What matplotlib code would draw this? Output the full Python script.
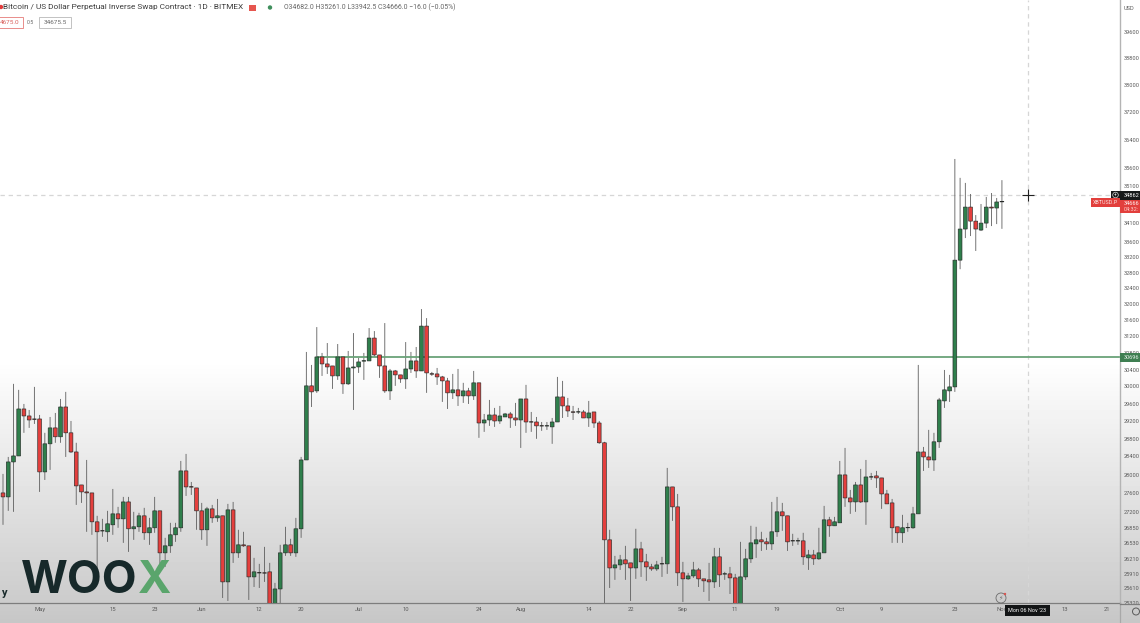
import numpy as np
import matplotlib
matplotlib.use("Agg")
import matplotlib.pyplot as plt
from matplotlib.patches import Rectangle, Circle

# --- data: daily candles ------------------------------------------------------
opens = [27600,27514,28278,28411,29476,29315,29246,29246,28058,28682,29042,28840,29522,28930,28500,27773,27622,27600,26982,26793,
26772,26919,27151,27045,27406,26835,26877,27109,26751,26856,27215,26334,26479,26709,26856,28080,27735,27708,27215,26814,
27257,27066,27109,25742,27236,26334,26500,26479,25843,25928,25925,25945,25300,25600,26334,26500,26334,26835,28322,30014,
29896,30702,30534,30486,30249,30702,30061,30438,30462,30600,30606,31160,30750,30486,29896,30367,30273,30178,30414,30606,
30367,31453,30300,30296,30225,30131,29850,29920,29779,29896,29779,30085,29154,29223,29338,29200,29292,29361,29269,29223,
29708,29180,29177,29090,29085,29065,29177,29755,29546,29410,29405,29407,29269,29407,29154,28705,26604,26025,26087,26190,
26128,26025,26416,26149,26046,26005,26110,26108,27730,27300,25925,25803,25863,25985,25803,25783,25742,26252,25900,25904,
25823,25300,25843,26211,26520,26604,26562,26520,26772,27194,27109,26585,26580,26583,26231,26292,26211,26334,27024,26898,
26961,27992,27492,27406,27773,27406,27945,27970,27926,27578,27385,26877,26751,26856,26856,27151,28500,28389,28322,28727,
29662,29896,29990,33120,33937,34526,34148,33910,34095,34526,34500,34682]
highs = [28014,28389,30061,29920,29592,29453,29990,29338,28930,29292,29384,29708,29873,29200,28705,27773,28322,27600,27109,27045,
27215,27686,27300,27514,27514,27194,27173,27279,27066,27514,27215,26646,26961,26961,28300,28456,27838,27708,27385,27300,
27342,27470,27109,27364,27406,26814,26772,26479,26231,26108,26458,26128,25722,26500,26877,26625,27066,28389,30822,30510,
31428,30798,31038,30486,31014,30702,30846,31281,30678,30798,31404,31330,30750,31527,30414,30390,30273,31062,30822,30942,
31875,31650,30343,30438,30249,30202,30296,30414,30085,29967,30367,30085,29361,29685,29500,29546,29384,29407,29616,29708,
30037,29407,29292,29177,29177,29269,30225,30131,29732,29546,29500,29453,29662,29407,29200,28727,26814,26272,26292,26479,
26128,26835,26562,26313,26108,26169,26252,28146,27730,27578,26149,25925,26149,26025,25803,26128,26437,26437,25945,26046,
25904,26562,26416,26898,26877,26772,26646,27406,27514,27385,27109,26730,26646,26751,26395,26395,26856,27321,27087,27087,
28300,28590,27665,27838,28124,28322,28036,28080,27926,27665,27470,26877,27130,26961,27300,30510,28612,28997,28930,29732,
30390,30273,35851,35325,35185,34881,34310,34609,34800,34908,34772,35261]
lows = [26919,27215,27194,28411,28930,29042,29133,27622,27882,28102,28705,28705,28389,28478,27342,27385,26772,26709,25985,26667,
26562,26709,26856,26541,26354,26604,26772,26604,26500,26751,26108,26046,26334,26562,26772,27535,27557,26814,26604,26479,
26961,26982,25420,25361,26128,26231,26458,25381,25640,25620,25742,25250,25200,25300,26272,26272,26252,26646,28322,29522,
29850,30249,30296,29943,30155,29826,30037,29453,30320,30155,30606,30702,30202,29850,29685,30014,30085,29943,30320,30202,
30367,29850,30249,30037,29639,29476,29708,29546,29616,29592,29685,28817,28952,29088,29065,29133,29292,29042,29088,28590,
28930,28952,28795,28975,28997,28682,29177,29269,29292,29223,29361,29269,29065,29042,28682,25302,25620,25783,25985,25783,
25361,25803,25843,25763,25965,25965,25843,25904,27003,25661,25341,25783,25823,25640,25540,25361,25620,25640,25783,25500,
25250,25250,25783,26128,26231,26374,26395,26395,26667,26793,26374,26479,26500,26087,25985,26087,26190,26334,26667,26898,
26961,27300,27151,27194,27385,26919,27882,27708,27257,27364,26541,26541,26541,26772,26835,27151,28080,28146,28080,28590,
29500,29639,29873,32886,33698,33751,33359,33884,33963,34016,34069,33942.5]
closes = [27514,28278,28411,29476,29315,29223,29240,28058,28682,29042,28840,29522,28930,28500,27752,27622,27600,26982,26772,26790,
26940,27151,27045,27406,26835,26877,27109,26751,26856,27215,26334,26479,26709,26856,28080,27730,27725,27215,26814,27257,
27066,27109,25742,27236,26334,26500,26479,25843,25945,25922,25920,25300,25600,26334,26500,26334,26835,28322,30014,29873,
30702,30534,30462,30249,30702,30061,30438,30462,30582,30612,31160,30750,30486,29896,30367,30273,30178,30414,30606,30367,
31453,30320,30290,30225,30131,29850,29920,29779,29896,29779,30085,29154,29223,29338,29200,29315,29361,29269,29223,29708,
29177,29175,29088,29085,29090,29177,29755,29546,29430,29400,29410,29269,29384,29154,28705,26604,26025,26087,26190,26108,
26025,26416,26149,26046,26005,26087,26106,27730,27300,25925,25803,25863,25985,25803,25763,25742,26252,25884,25906,25823,
25300,25843,26211,26541,26604,26562,26520,26772,27194,27109,26562,26580,26585,26252,26292,26211,26334,27024,26898,26982,
27992,27492,27406,27773,27406,27947,27950,27926,27578,27364,26856,26751,26856,26860,27151,28500,28389,28322,28727,29685,
29920,29990,33120,33937,34526,34148,33937,34095,34526,34500,34664,34666]

price_ticks = [39600,38800,38000,37200,36400,35600,35100,34100,33600,33200,32800,32400,32000,31600,31200,30800,30400,
               30000,29600,29200,28800,28400,28000,27600,27200,26850,26530,26210,25910,25610,25320]
date_tick_idx = [7,21,29,38,49,57,68,77,91,99,112,120,130,140,148,160,168,182,191,203,211]
date_tick_lab = ["May","15","23","Jun","12","20","Jul","10","24","Aug","14","22","Sep","11","19","Oct","9","23","Nov","13","21"]
level_price = 30696
level_start = 60
cross_price = 34862
cross_idx = 196
last_price = 34666

# --- layout -------------------------------------------------------------------
W, H = 1140, 623
UP, DOWN, EDGE, WICK = "#2f7f4c", "#e43f3d", "#262a28", "#5c5c5c"
plt.rcParams["font.family"] = ["Roboto", "DejaVu Sans"]
fig = plt.figure(figsize=(W/100, H/100), dpi=100, facecolor="white")

# background fade
bg = fig.add_axes([0, 0, 1, 1], zorder=-1)
rows = np.arange(H)
shade = np.interp(rows, [0, 360, 400, 500, 600, 623], [255, 255, 246, 225, 204, 198])
bg.imshow(shade[:, None], cmap="gray", vmin=0, vmax=255, aspect="auto")
bg.axis("off")

ax = fig.add_axes([0, 20/H, 1120/W, 603/H])
ax.patch.set_alpha(0)
ax.set_yscale("log")
ax.set_ylim(39600*np.exp(-571/1277), 39600*np.exp(32/1277))
ax.set_xlim(-3/5.23, 1117/5.23)

o, h, l, c = map(np.array, (opens, highs, lows, closes))
x = np.arange(len(o))
wicks = ax.vlines(x, l, h, color=WICK, lw=0.6, zorder=2)
wicks.set_snap(False)
cols = [UP if b >= a else DOWN for a, b in zip(o, c)]
bars = ax.bar(x, np.abs(c-o), bottom=np.minimum(o, c), width=0.72, color=cols,
              edgecolor=EDGE, linewidth=0.45, zorder=3)
for b in bars:
    b.set_snap(False)

ax.hlines(level_price, level_start, ax.get_xlim()[1], color="#6aa378", lw=1.3, zorder=2.5)
ax.axhline(cross_price, color="#d6d6d6", lw=0.9, ls=(0, (3.5, 3)), zorder=1)
ax.axvline(cross_idx, color="#d6d6d6", lw=0.9, ls=(0, (3.5, 3)), zorder=1)
ax.plot([cross_idx], [cross_price], marker="+", ms=9, mew=0.8, color="#222222", zorder=5)

ax.yaxis.tick_right()
ax.set_yticks(price_ticks, [str(t) for t in price_ticks])
ax.yaxis.set_minor_locator(matplotlib.ticker.NullLocator())
ax.yaxis.set_minor_formatter(matplotlib.ticker.NullFormatter())
ax.set_xticks(date_tick_idx, date_tick_lab)
ax.tick_params(axis="y", length=0, pad=2.6, labelsize=4.1, labelcolor="#5a5a5a")
ax.tick_params(axis="x", length=0, pad=3, labelsize=4.2, labelcolor="#5a5a5a")
for s in ("top", "left"):
    ax.spines[s].set_visible(False)
ax.spines["right"].set_color("#b4b4b4")
ax.spines["bottom"].set_color("#7d7d7d")
ax.spines["right"].set_linewidth(1.0)
ax.spines["bottom"].set_linewidth(0.9)

# overlay in pixel space for the chart furniture
ov = fig.add_axes([0, 0, 1, 1], zorder=5)
ov.set_xlim(0, W); ov.set_ylim(H, 0); ov.axis("off")

def box(x0, y0, x1, y1, fc, ec="none", lw=0):
    ov.add_patch(Rectangle((x0, y0), x1-x0, y1-y0, fc=fc, ec=ec, lw=lw))

ov.plot([1120, 1120], [603, 623], color="#a8a8a8", lw=0.9)
ov.plot([1120, 1140], [603.5, 603.5], color="#7d7d7d", lw=0.9)

# header
ov.add_patch(Circle((1, 7), 2.2, fc="#e23b3b", ec="none"))
ov.text(3, 7.5, "Bitcoin / US Dollar Perpetual Inverse Swap Contract · 1D · BITMEX", fontsize=5.95,
        color="#3c3c3c", va="center", ha="left")
box(249, 5, 256, 11, "#e6564f")
ov.add_patch(Circle((270, 7.5), 2.2, fc="#3f8f5c", ec="none"))
ov.text(284, 7.5, "O34682.0 H35261.0 L33942.5 C34666.0 −16.0 (−0.05%)", fontsize=4.95,
        color="#666666", va="center", ha="left")
box(-3, 17, 23, 28, "white", "#e57b78", 0.6)
ov.text(19.5, 22.5, "4675.0", fontsize=4.6, color="#d9605c", va="center", ha="right")
ov.text(30.5, 22, "0.5", fontsize=3.8, color="#666666", va="center", ha="center")
box(39, 17, 71, 28, "white", "#b8b8b8", 0.6)
ov.text(55, 22.5, "34675.5", fontsize=4.6, color="#666666", va="center", ha="center")

ov.text(1124, 8, "USD", fontsize=4.1, color="#5a5a5a", va="center", ha="left")

# price tags
box(1111, 191, 1140, 200, "#16191a")
ov.add_patch(Circle((1115.5, 195), 2.8, fc="none", ec="#d8d8d8", lw=0.5))
ov.text(1115.5, 195, "+", fontsize=3.6, color="#e8e8e8", va="center", ha="center")
ov.text(1124, 195.5, str(cross_price), fontsize=4.1, color="white", va="center", ha="left")
box(1091, 198, 1120, 207, "#e23f3c")
ov.text(1105.5, 202.5, "XBTUSD.P", fontsize=3.9, color="#fbe3e2", va="center", ha="center")
box(1120, 200, 1140, 213, "#e23f3c")
ov.text(1124, 203.5, str(last_price), fontsize=4.0, color="#fff0ef", va="center", ha="left")
ov.text(1124, 209.5, "04:32:", fontsize=4.0, color="#ffd0cd", va="center", ha="left")
box(1120, 353, 1140, 362, "#3f7f52")
ov.text(1124, 357.5, str(level_price), fontsize=4.0, color="#e8f2ea", va="center", ha="left")

# time tag and small icons
box(1005, 605, 1050, 616, "#131516")
ov.text(1027.5, 610.7, "Mon 06 Nov '23", fontsize=4.0, color="white", va="center", ha="center")
ov.add_patch(Circle((1001, 598), 5, fc="none", ec="#6b6b6b", lw=0.6))
ov.text(1001, 598, "⚡", fontsize=4.5, color="#6b6b6b", va="center", ha="center", family="DejaVu Sans")
ov.add_patch(Circle((1005, 594), 1.2, fc="#d9534f", ec="none"))
ov.add_patch(Circle((1136, 611.5), 3.5, fc="none", ec="#5a5a5a", lw=0.7))

# watermark
ov.text(21, 581, "WOO", fontsize=32.5, fontweight="bold", family=["Inter", "DejaVu Sans"],
        color="#17292a", va="center", ha="left")
ov.text(138, 581, "X", fontsize=32.5, fontweight="bold", family=["Inter", "DejaVu Sans"],
        color="#5aa56c", va="center", ha="left")
ov.text(8, 593, "y", fontsize=8, fontweight="bold", color="#17292a", va="center", ha="right")

fig.savefig("out.png", dpi=100)
